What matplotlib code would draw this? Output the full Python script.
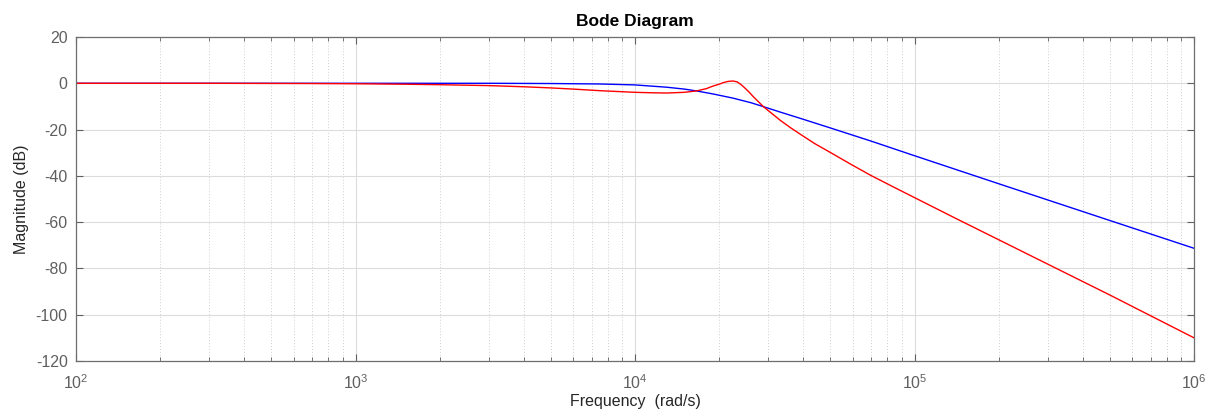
import matplotlib
matplotlib.use("Agg")
import matplotlib.pyplot as plt
from matplotlib.ticker import LogLocator, FixedLocator

plt.rcParams['font.family'] = ['Liberation Sans', 'DejaVu Sans']
plt.rcParams['mathtext.fontset'] = 'custom'
plt.rcParams['mathtext.rm'] = 'Liberation Sans'
plt.rcParams['axes.unicode_minus'] = False

# frequency (rad/s) and magnitude (dB)
blue_w = [1e2, 1e3, 3e3, 5e3, 7.5e3, 1e4, 1.3e4, 1.5e4, 1.66e4, 1.9e4, 2.24e4,
          2.6e4, 2.88e4, 3.3e4, 3.89e4, 5e4, 7e4, 1e5, 2e5, 5e5, 1e6]
blue_db = [0, 0, 0, -0.1, -0.3, -0.7, -1.7, -2.5, -3.3, -4.6, -6.4,
           -8.4, -10.1, -12.4, -15.1, -19.3, -25.0, -31.3, -43.4, -59.3, -71.3]

red_w = [1e2, 3e2, 7e2, 1e3, 1.5e3, 2e3, 3e3, 4e3, 5e3, 6e3, 7.5e3, 1e4, 1.15e4,
         1.3e4, 1.5e4, 1.66e4, 1.8e4, 1.9e4, 2e4, 2.07e4, 2.15e4, 2.24e4, 2.32e4,
         2.38e4, 2.44e4, 2.55e4, 2.65e4, 2.88e4, 3.3e4, 3.6e4, 3.89e4, 4.4e4, 5e4,
         6e4, 7e4, 8.5e4, 1e5, 1.4e5, 2e5, 5e5, 1e6]
red_db = [0, 0, -0.1, -0.2, -0.4, -0.6, -1.0, -1.5, -2.0, -2.5, -3.2, -3.9, -4.1,
          -4.2, -3.9, -3.3, -2.3, -1.2, -0.4, 0.3, 0.8, 1.0, 0.6,
          -0.3, -1.4, -3.6, -5.8, -10.1, -15.9, -19.2, -21.9, -26.1, -29.9,
          -35.4, -39.9, -45.1, -49.4, -58.3, -67.6, -91.5, -110.0]

y_ticks = [20, 0, -20, -40, -60, -80, -100, -120]

fig = plt.figure(figsize=(12.05, 4.09), dpi=100)
ax = fig.add_axes([0.0631, 0.1174, 0.9278, 0.7921])

ax.plot(blue_w, blue_db, color="blue", linewidth=1.0)
ax.plot(red_w, red_db, color="red", linewidth=1.0)

ax.set_xscale("log")
ax.set_xlim(1e2, 1e6)
ax.set_ylim(-120, 20)
ax.yaxis.set_major_locator(FixedLocator(y_ticks))
ax.xaxis.set_major_locator(LogLocator(base=10, numticks=10))
ax.xaxis.set_minor_locator(LogLocator(base=10, subs=range(2, 10), numticks=100))

ax.grid(True, which="major", color="#dcdcdc", linestyle="-", linewidth=0.8)
ax.grid(True, which="minor", axis="x", color="#d0d0d0", linestyle=(0, (1, 2)), linewidth=0.7)
ax.set_axisbelow(True)

ax.tick_params(which="both", direction="in", top=True, right=True,
               colors="#606060", labelcolor="#5f5f5f", labelsize=11.5)
ax.tick_params(which="major", length=5, width=0.8)
ax.tick_params(which="minor", length=3, width=0.6)
ax.tick_params(axis="x", which="major", pad=9)
ax.tick_params(axis="y", which="major", pad=6)
for s in ax.spines.values():
    s.set_color("#6e6e6e")
    s.set_linewidth(0.9)

ax.set_title("Bode Diagram", fontsize=12.5, fontweight="bold", pad=8)
ax.set_xlabel("Frequency  (rad/s)", fontsize=11.5, color="#262626", labelpad=1)
ax.set_ylabel("Magnitude (dB)", fontsize=11.5, color="#262626", labelpad=5)

fig.savefig("out.png", dpi=100)
